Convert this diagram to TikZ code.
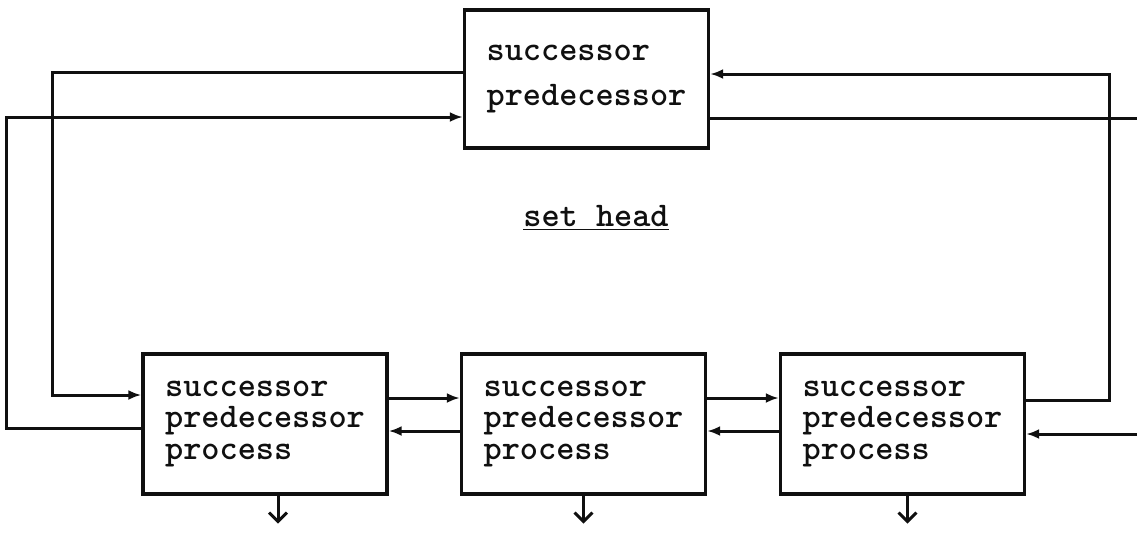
\documentclass[tikz,border=0pt]{standalone}
\usepackage{tikz}
\usetikzlibrary{calc, positioning, arrows.meta}
\definecolor{typeInk}{HTML}{101010}
\tikzset{
  box/.style     = {draw=typeInk, line width=1.7pt, align=left, inner sep=0pt,
                    font=\ttfamily\bfseries\fontsize{17.3}{15.9}\selectfont, text=typeInk,
                    minimum width=122pt, minimum height=70pt},
  headbox/.style = {box, minimum height=69pt,
                    font=\ttfamily\bfseries\fontsize{17.3}{22.5}\selectfont},
  fl/.style      = {-{Latex[length=6.5pt,width=5pt]}, draw=typeInk, line width=1.5pt},
  wire/.style    = {draw=typeInk, line width=1.5pt},
  outarr/.style  = {-{Straight Barb[length=4.5pt,width=9pt]}, draw=typeInk, line width=1.5pt},
  lbl/.style     = {font=\ttfamily\bfseries\fontsize{17.3}{20}\selectfont, text=typeInk, inner sep=0pt}
}
\begin{document}
\begin{tikzpicture}[x=0.5pt, y=-0.5pt]
  \useasboundingbox (0,0) rectangle (1137,542);

  \node[headbox] (head) at (586.5,79) {successor\\predecessor};
  \node[box] (p1) at (265,424) {successor\\predecessor\\process};
  \node[box] (p2) at (583.5,424) {successor\\predecessor\\process};
  \node[box] (p3) at (902.5,424) {successor\\predecessor\\process};
  \node[lbl, anchor=base] (title) at (596,226) {\underline{set head}};

  \coordinate (rimA) at (1137,118);
  \coordinate (rimB) at (1137,434);

  % head <-> first process
  \draw[fl] ($(head.west)+(0,-7)$) -- ++(-410,0) |- ($(p1.west)+(0,-29)$);
  \draw[fl] ($(p1.west)+(0,4)$) -- ++(-135,0) |- ($(head.west)+(0,38)$);

  % neighbours
  \foreach \a/\b in {p1/p2, p2/p3} {
    \draw[fl] ($(\a.east)+(0,-26)$) -- ($(\b.west)+(0,-26)$);
    \draw[fl] ($(\b.west)+(0,7)$) -- ($(\a.east)+(0,7)$);
  }

  % last process <-> head
  \draw[fl] ($(p3.east)+(0,-24)$) -- ++(83,0) |- ($(head.east)+(0,-5)$);
  \draw[wire] ($(head.east)+(0,39)$) -- (rimA);
  \draw[fl] (rimB) -- (rimB -| p3.east);

  \foreach \n/\dx in {p1/13, p2/0, p3/5}
    \draw[outarr] ($(\n.south)+(\dx,0)$) -- ++(0,28);
\end{tikzpicture}
\end{document}
